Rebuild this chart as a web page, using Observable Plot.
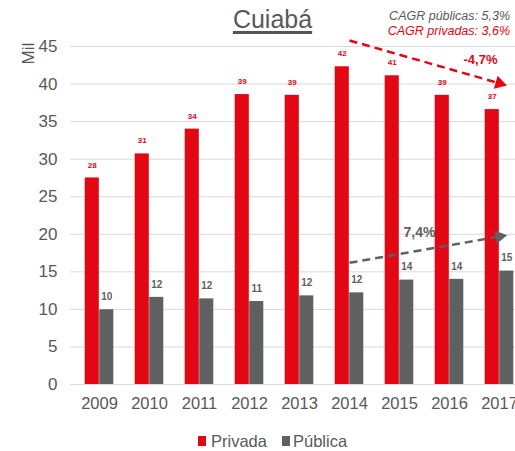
<!DOCTYPE html>
<html>
<head>
<meta charset="utf-8">
<script src="https://cdn.jsdelivr.net/npm/d3@7"></script>
<script src="https://cdn.jsdelivr.net/npm/@observablehq/plot@0.6"></script>
<style>
  html, body { margin: 0; padding: 0; background: #fff; }
  #wrap { position: relative; width: 515px; height: 451px; overflow: hidden; font-family: "Liberation Sans", Arial, sans-serif; }
  #title { position: absolute; left: 0; width: 545px; top: 5px; text-align: center; font-size: 25px; color: #595959;
           text-decoration: underline; text-decoration-thickness: 3px; text-underline-offset: 3px; text-decoration-color: #555; }
  #cagr { position: absolute; right: 5px; top: 9px; text-align: right; font-size: 12.5px; font-style: italic; line-height: 15px; }
  .lg { position: absolute; top: 432px; font-size: 16.5px; line-height: 19px; color: #595959; white-space: nowrap; }
  .sw { position: absolute; top: 436px; width: 8px; height: 10px; }
  #plot { position: absolute; left: 0; top: 0; }
</style>
</head>
<body>
<div id="wrap">
  <div id="plot"></div>
  <div id="title">Cuiabá</div>
  <div id="cagr"><div style="color:#595959">CAGR públicas: 5,3%</div><div style="color:#e30613">CAGR privadas: 3,6%</div></div>
  <div class="sw" style="left:198px;background:#e30613"></div><div class="lg" style="left:211px">Privada</div>
  <div class="sw" style="left:282px;background:#5f6062"></div><div class="lg" style="left:293px">Pública</div>
</div>
<script>
const years = ["2009","2010","2011","2012","2013","2014","2015","2016","2017"];
const privada = [27.5, 30.7, 34.0, 38.6, 38.5, 42.3, 41.1, 38.5, 36.6];
const publica = [9.95, 11.6, 11.4, 11.05, 11.8, 12.2, 13.9, 14.0, 15.1];
const privadaLabels = ["28","31","34","39","39","42","41","39","37"];
const publicaLabels = ["10","12","12","11","12","12","14","14","15"];
const yTicks = [0,5,10,15,20,25,30,35,40,45];
// trend arrows (year, value)
const redArrow = [{x1:"2014", y1:45.8, x2:"2017", y2:40.1, label:"-4,7%"}];
const greyArrow = [{x1:"2014", y1:16.2, x2:"2017", y2:19.7, label:"7,4%"}];

const RED = "#e30613", GREY = "#5f6062", TXT = "#595959";
const data = years.map((y,i) => ({year:y, privada:privada[i], publica:publica[i], pl:privadaLabels[i], gl:publicaLabels[i]}));

const chart = Plot.plot({
  width: 515, height: 451,
  marginTop: 46, marginBottom: 67, marginLeft: 70, marginRight: 0,
  style: {fontFamily: "Liberation Sans, Arial, sans-serif", background: "transparent", overflow: "visible"},
  x: {type: "band", domain: years, range: [72, 526], padding: 0},
  y: {domain: [0, 45]},
  marks: [
    Plot.gridY(yTicks, {stroke: "#d9d9d9", strokeOpacity: 1}),
    Plot.axisY(yTicks, {tickSize: 0, tickPadding: 13, fontSize: 17, fill: TXT, label: null}),
    Plot.axisX({tickSize: 0, tickPadding: 13, fontSize: 16.5, fill: TXT, label: null}),
    Plot.text(["Mil"], {frameAnchor: "top-left", dx: -49, dy: 18, rotate: -90, fontSize: 17, fill: TXT}),
    Plot.barY(data, {x: "year", y: "privada", fill: RED, insetLeft: 10.7, insetRight: 25.2}),
    Plot.barY(data, {x: "year", y: "publica", fill: GREY, insetLeft: 25.2, insetRight: 10.7}),
    Plot.text(data, {x: "year", y: "privada", text: "pl", dx: -7.25, dy: -13, fill: RED, fontSize: 8, fontWeight: "bold"}),
    Plot.text(data, {x: "year", y: "publica", text: "gl", dx: 7.25, dy: -13, fill: GREY, fontSize: 10, fontWeight: "bold"}),
    Plot.link(redArrow, {x1: "x1", y1: "y1", x2: "x2", y2: "y2", stroke: RED, strokeWidth: 2.5, strokeDasharray: "8,5"}),
    Plot.dot(redArrow, {x: "x2", y: "y2", symbol: "triangle", r: 5, fill: RED, rotate: 106}),
    Plot.text(redArrow, {x: "x2", y: "y2", text: "label", dx: -19, dy: -23, fill: RED, fontSize: 13, fontWeight: "bold"}),
    Plot.link(greyArrow, {x1: "x1", y1: "y1", x2: "x2", y2: "y2", stroke: GREY, strokeWidth: 2.5, strokeDasharray: "8,5"}),
    Plot.dot(greyArrow, {x: "x2", y: "y2", symbol: "triangle", r: 5, fill: GREY, rotate: 80}),
    Plot.text(greyArrow, {x: "x1", y: "y1", text: "label", dx: 70, dy: -30, fill: GREY, fontSize: 14, fontWeight: "bold"})
  ]
});
document.getElementById("plot").appendChild(chart);
</script>
</body>
</html>
